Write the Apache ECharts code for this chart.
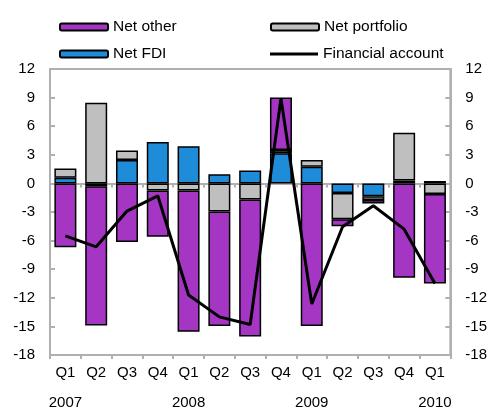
<!DOCTYPE html>
<html>
<head>
<meta charset="utf-8">
<script src="https://cdn.jsdelivr.net/npm/echarts@6/dist/echarts.min.js"></script>
<style>
html,body{margin:0;padding:0;background:#fff;}
#chart{width:490px;height:414px;}
</style>
</head>
<body>
<div id="chart"></div>
<script>
var quarters = ['Q1','Q2','Q3','Q4','Q1','Q2','Q3','Q4','Q1','Q2','Q3','Q4','Q1'];
var years = ['2007','','','','2008','','','','2009','','','','2010'];
var netFDI = [0.6, -0.3, 2.45, 4.35, 3.9, 0.95, 1.35, 3.15, 1.75, -1.0, -1.35, 0.3, 0.25];
var netPortfolio = [0.95, 8.45, 1.0, -0.75, -0.75, -2.95, -1.7, 0.35, 0.7, -2.75, -0.4, 5.0, -1.1];
var netOther = [-6.7, -14.6, -6.15, -4.85, -14.8, -12.0, -14.35, 5.5, -14.95, -0.75, -0.35, -9.9, -9.4];
var financialAccount = [-5.5, -6.65, -2.9, -1.3, -11.7, -14.0, -14.8, 8.9, -12.65, -4.55, -2.35, -4.8, -10.5];
var yTicks = {min: -18, max: 12, interval: 3};

var FONT = 'Liberation Sans, Arial, sans-serif';
var AXIS_COLOR = '#b0b0b0';
var chart = echarts.init(document.getElementById('chart'), null, {renderer: 'canvas'});

function legendAt(item, left, top, h) {
  return {
    data: [item], left: left, top: top, padding: 0,
    itemWidth: 48, itemHeight: h, itemGap: 5,
    textStyle: {fontFamily: FONT, fontSize: 15.5, color: '#000'}
  };
}

var barStyle = function (color) {
  return {color: color, borderColor: '#000', borderWidth: 1.5};
};

var option = {
  animation: false,
  graphic: [{
    type: 'text', x: 0, y: -12,
    style: {text: '(Billions of U.S. dollars)', font: '12px ' + FONT, fill: '#000', verticalAlign: 'top'}
  }],
  legend: [
    legendAt('Net other', 59, 19, 7),
    legendAt('Net portfolio', 270, 19, 7),
    legendAt('Net FDI', 59, 46, 7),
    legendAt({name: 'Financial account', icon: 'rect'}, 270, 46, 3)
  ],
  grid: {left: 50, right: 37, top: 69, bottom: 59, show: true, borderColor: AXIS_COLOR, borderWidth: 2, backgroundColor: 'transparent'},
  xAxis: [{
    type: 'category', data: quarters, position: 'bottom',
    boundaryGap: true,
    axisLine: {onZero: false, lineStyle: {color: AXIS_COLOR, width: 2}},
    axisTick: {show: true, inside: false, length: 4, lineStyle: {color: AXIS_COLOR, width: 2}},
    axisLabel: {
      interval: 0, margin: 3, color: '#000', fontFamily: FONT, fontSize: 15,
      formatter: function (v, i) {
        return years[i] ? '{q|' + v + '}\n{y|' + years[i] + '}' : '{q|' + v + '}';
      },
      rich: {
        q: {fontFamily: FONT, fontSize: 15, lineHeight: 30, color: '#000'},
        y: {fontFamily: FONT, fontSize: 15, lineHeight: 30, color: '#000'}
      }
    },
    splitLine: {show: false}
  }, {
    type: 'category', data: quarters, position: 'bottom',
    boundaryGap: true,
    axisLine: {onZero: true, onZeroAxisIndex: 0, lineStyle: {color: AXIS_COLOR, width: 2}},
    axisTick: {show: true, inside: false, length: 4, lineStyle: {color: AXIS_COLOR, width: 2}},
    axisLabel: {show: false},
    splitLine: {show: false}
  }],
  yAxis: [{
    type: 'value', position: 'left', min: yTicks.min, max: yTicks.max, interval: yTicks.interval,
    axisLine: {show: true, onZero: false, lineStyle: {color: AXIS_COLOR, width: 2}},
    axisTick: {show: true, inside: true, length: 5, lineStyle: {color: AXIS_COLOR, width: 2}},
    axisLabel: {margin: 15, color: '#000', fontFamily: FONT, fontSize: 15},
    splitLine: {show: false}
  }, {
    type: 'value', position: 'right', min: yTicks.min, max: yTicks.max, interval: yTicks.interval,
    axisLine: {show: true, onZero: false, lineStyle: {color: AXIS_COLOR, width: 2}},
    axisTick: {show: true, inside: true, length: 5, lineStyle: {color: AXIS_COLOR, width: 2}},
    axisLabel: {margin: 15, color: '#000', fontFamily: FONT, fontSize: 15},
    splitLine: {show: false}
  }],
  series: [{
    name: 'Net FDI', type: 'bar', stack: 'fa', data: netFDI, barWidth: 22,
    itemStyle: barStyle('#1e8cd8'), xAxisIndex: 0, yAxisIndex: 0
  }, {
    name: 'Net portfolio', type: 'bar', stack: 'fa', data: netPortfolio, barWidth: 22,
    itemStyle: barStyle('#bfbfbf'), xAxisIndex: 0, yAxisIndex: 0
  }, {
    name: 'Net other', type: 'bar', stack: 'fa', data: netOther, barWidth: 22,
    itemStyle: barStyle('#a436c3'), xAxisIndex: 0, yAxisIndex: 0
  }, {
    name: 'Financial account', type: 'line', data: financialAccount,
    symbol: 'none', z: 10, xAxisIndex: 0, yAxisIndex: 0,
    lineStyle: {color: '#000', width: 3}, itemStyle: {color: '#000'}
  }]
};
chart.setOption(option);
</script>
</body>
</html>
